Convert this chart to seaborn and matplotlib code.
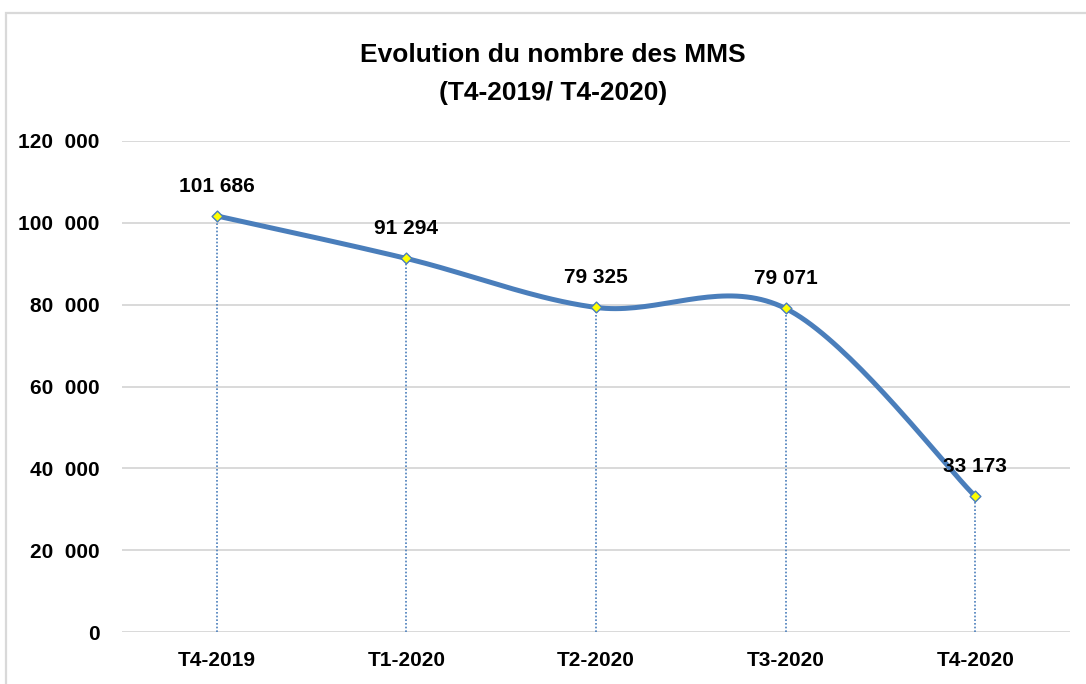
import numpy as np
import pandas as pd
import seaborn as sns
import matplotlib
matplotlib.use("Agg")
import matplotlib.pyplot as plt
from matplotlib.patches import Rectangle
from matplotlib.ticker import FuncFormatter

categories = ["T4-2019", "T1-2020", "T2-2020", "T3-2020", "T4-2020"]
values = [101686, 91294, 79325, 79071, 33173]
value_labels = ["101 686", "91 294", "79 325", "79 071", "33 173"]
title_lines = ["Evolution du nombre des MMS", "(T4-2019/ T4-2020)"]
y_ticks = [0, 20000, 40000, 60000, 80000, 100000, 120000]

sns.set_theme(style="white")
plt.rcParams['font.family'] = ['Liberation Sans', 'DejaVu Sans']
plt.rcParams['font.weight'] = 'bold'
plt.rcParams['text.color'] = 'black'

LINE = "#4A7EBB"

def excel_smooth(xs, ys, n=40):
    P = np.column_stack([xs, ys]).astype(float)
    k = len(P)
    out = []
    for i in range(k - 1):
        p0 = P[max(i - 1, 0)]
        p1 = P[i]
        p2 = P[i + 1]
        p3 = P[min(i + 2, k - 1)]
        c1 = p1 + (p2 - p0) / 6.0
        c2 = p2 - (p3 - p1) / 6.0
        t = np.linspace(0, 1, n)[:, None]
        seg = ((1 - t) ** 3) * p1 + 3 * ((1 - t) ** 2) * t * c1 + 3 * (1 - t) * t ** 2 * c2 + t ** 3 * p2
        if i > 0:
            seg = seg[1:]
        out.append(seg)
    return np.vstack(out)

xpos = np.arange(len(categories))
curve = excel_smooth(xpos, values)
df_curve = pd.DataFrame({"x": curve[:, 0], "y": curve[:, 1]})
df_pts = pd.DataFrame({"x": xpos, "y": values})

fig = plt.figure(figsize=(10.86, 6.84), dpi=100)
ax = fig.add_axes([122 / 1086, 1 - 632 / 684, (1070 - 122) / 1086, (632 - 141) / 684])

# frame
fig.patches.append(Rectangle((6 / 1086, -0.1), 1.2, 1.1 - 13 / 684, transform=fig.transFigure,
                             fill=False, edgecolor="#D9D9D9", linewidth=1.6, zorder=0))

ax.set_xlim(-0.5, len(categories) - 0.5)
ax.set_ylim(0, 120000)
ax.set_yticks(y_ticks)
ax.yaxis.set_major_formatter(FuncFormatter(lambda v, p: "0" if v == 0 else f"{int(v)//1000}  000"))
ax.grid(axis="y", color="#D9D9D9", linewidth=1.4)
ax.grid(axis="x", visible=False)
for s in ax.spines.values():
    s.set_visible(False)

ax.vlines(xpos, 0, values, colors=LINE, linestyles=(0, (1, 1.2)), linewidth=1.2, zorder=2)
sns.lineplot(data=df_curve, x="x", y="y", sort=False, estimator=None, color=LINE,
             linewidth=3.6, ax=ax, zorder=3)
sns.scatterplot(data=df_pts, x="x", y="y", marker="D", s=30, color="#FFFF00",
                edgecolor=LINE, linewidth=1.0, ax=ax, zorder=4)

for x, v, lab in zip(xpos, values, value_labels):
    ax.annotate(lab, (x, v), xytext=(0, 21.5), textcoords="offset points",
                ha="center", va="center", fontsize=15, fontweight="bold", color="black", zorder=5)

ax.set_xticks(xpos)
ax.set_xticklabels(categories)
ax.tick_params(axis="both", length=0, labelsize=15, labelcolor="black")
ax.tick_params(axis="y", pad=16)
ax.tick_params(axis="x", pad=14)
for t in ax.get_xticklabels() + ax.get_yticklabels():
    t.set_fontweight("bold")
ax.set_xlabel("")
ax.set_ylabel("")

fig.text(553 / 1086, 1 - 55 / 684, title_lines[0], ha="center", va="center", fontsize=19,
         fontweight="bold", color="black")
fig.text(553 / 1086, 1 - 93 / 684, title_lines[1], ha="center", va="center", fontsize=19,
         fontweight="bold", color="black")

fig.savefig("out.png", dpi=100, facecolor="white")
